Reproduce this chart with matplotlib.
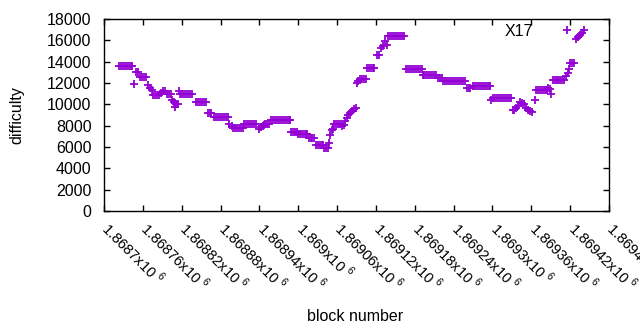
import matplotlib
matplotlib.use("Agg")
import matplotlib.pyplot as plt
import matplotlib.transforms as mtransforms
from matplotlib.ticker import MultipleLocator, FuncFormatter

# block numbers and difficulty values
blocks = [
    1868723, 1868726, 1868729, 1868732, 1868735, 1868738, 1868741, 1868744,
    1868747,
    1868750, 1868753,
    1868756, 1868759, 1868762, 1868765,
    1868768, 1868771, 1868774,
    1868776, 1868779, 1868782, 1868785,
    1868788, 1868791, 1868794,
    1868797, 1868800, 1868803,
    1868805, 1868808, 1868810, 1868811, 1868814,
    1868816,
    1868818, 1868821, 1868824, 1868827, 1868830, 1868833, 1868836,
    1868842, 1868845, 1868848, 1868851, 1868854, 1868857,
    1868860, 1868863, 1868866,
    1868870, 1868873, 1868876, 1868879, 1868882, 1868885, 1868888, 1868891,
    1868893, 1868897,
    1868899, 1868902, 1868905, 1868908, 1868911, 1868914,
    1868917, 1868920, 1868923, 1868926, 1868929, 1868932, 1868935,
    1868939, 1868942, 1868945, 1868947,
    1868949, 1868952, 1868955,
    1868958, 1868961, 1868964, 1868967, 1868970, 1868973, 1868976, 1868979,
    1868982, 1868985, 1868987,
    1868989, 1868992, 1868995, 1868998,
    1869000, 1869003, 1869006, 1869009, 1869012, 1869014,
    1869016, 1869019, 1869022, 1869025,
    1869027, 1869030, 1869033, 1869036, 1869039,
    1869040, 1869043, 1869046,
    1869047, 1869049, 1869052, 1869054,
    1869056, 1869059, 1869062, 1869065,
    1869068, 1869070, 1869072, 1869075, 1869077, 1869080, 1869083, 1869086, 1869089,
    1869091, 1869093,
    1869095, 1869098, 1869101, 1869104,
    1869106, 1869109, 1869112, 1869115, 1869117,
    1869121, 1869124,
    1869128, 1869131, 1869134, 1869137,
    1869139, 1869142, 1869145, 1869148, 1869151, 1869154, 1869157, 1869160, 1869163,
    1869167, 1869170, 1869173, 1869176, 1869179, 1869182, 1869185, 1869188, 1869191,
    1869192, 1869195, 1869198, 1869201, 1869204, 1869207, 1869210, 1869213,
    1869216, 1869219, 1869222,
    1869224, 1869227, 1869230, 1869233, 1869236, 1869239, 1869242, 1869245,
    1869248, 1869251, 1869254, 1869257,
    1869260, 1869263, 1869266,
    1869270, 1869273, 1869276, 1869279, 1869282, 1869285, 1869288, 1869291,
    1869294, 1869296,
    1869298, 1869301, 1869304, 1869307, 1869310, 1869313, 1869316, 1869319,
    1869322, 1869325, 1869328,
    1869331, 1869334, 1869337, 1869340, 1869343, 1869346, 1869349, 1869352,
    1869355, 1869358, 1869361,
    1869365,
    1869367, 1869370, 1869373, 1869376, 1869379, 1869382, 1869385,
    1869386, 1869389, 1869391,
    1869393, 1869396, 1869399, 1869402, 1869405, 1869408, 1869411,
    1869414, 1869416, 1869418,
    1869420, 1869423, 1869426,
    1869429, 1869432, 1869435, 1869438, 1869441,
]
difficulty = [
    13600, 13600, 13600, 13600, 13600, 13600, 13600, 13600,
    11900,
    13000, 13000,
    12550, 12550, 12550, 12550,
    11800, 11500, 11300,
    10850, 10850, 10850, 10850,
    11050, 11250, 11250,
    10950, 10950, 10950,
    10400, 10250, 9750, 10050, 10000,
    11250,
    10950, 10950, 10950, 10950, 10950, 10950, 10950,
    10200, 10200, 10200, 10200, 10200, 10200,
    9150, 9150, 9150,
    8800, 8800, 8800, 8800, 8800, 8800, 8800, 8800,
    8200, 7950,
    7750, 7750, 7750, 7750, 7750, 7750,
    8200, 8200, 8200, 8200, 8200, 8200, 8200,
    7650, 7900, 7950, 8100,
    8200, 8200, 8200,
    8500, 8500, 8500, 8500, 8500, 8500, 8500, 8500,
    8500, 8500, 8500,
    7450, 7450, 7450, 7450,
    7200, 7200, 7200, 7200, 7200, 7200,
    6850, 6850, 6850, 6850,
    6150, 6150, 6150, 6150, 6150,
    5950, 5950, 5950,
    6350, 7100, 7550, 7650,
    8150, 8150, 8150, 8150,
    7950, 8100, 8450, 8700, 9000, 9200, 9350, 9550, 9700,
    12000, 12200,
    12400, 12400, 12400, 12400,
    13450, 13450, 13450, 13450, 13450,
    14600, 14600,
    15250, 15450, 15900, 15550,
    16400, 16400, 16400, 16400, 16400, 16400, 16400, 16400, 16400,
    13300, 13300, 13300, 13300, 13300, 13300, 13300, 13300, 13300,
    12750, 12750, 12750, 12750, 12750, 12750, 12750, 12750,
    12450, 12450, 12450,
    12150, 12150, 12150, 12150, 12150, 12150, 12150, 12150,
    12150, 12150, 12150, 12150,
    11500, 11500, 11500,
    11700, 11700, 11700, 11700, 11700, 11700, 11700, 11700,
    11700, 11700,
    10450, 10550, 10550, 10550, 10550, 10550, 10550, 10550,
    10550, 10550, 10550,
    9450, 9500, 9700, 9850, 10200, 10150, 10000, 9700,
    9450, 9400, 9250,
    10400,
    11350, 11350, 11350, 11350, 11350, 11350, 11350,
    11500, 11450, 11000,
    12300, 12300, 12300, 12300, 12300, 12300, 12300,
    12700, 12950, 13300,
    13850, 13850, 13850,
    16150, 16350, 16500, 16700, 16950,
]

series_name = "X17"

plt.rcParams['font.family'] = ['Liberation Sans', 'DejaVu Sans']
plt.rcParams['mathtext.fontset'] = 'custom'
plt.rcParams['mathtext.rm'] = 'Liberation Sans'

fig = plt.figure(figsize=(6.4, 3.3), dpi=100)
ax = fig.add_axes([104 / 640, 1 - 211 / 330, 505 / 640, 192 / 330])

ax.plot(blocks, difficulty, linestyle='none', marker='+', markersize=6,
        markeredgewidth=1.3, color='#9400D3', label=series_name)

ax.set_xlim(1868700, 1869480)
ax.set_ylim(0, 18000)
ax.xaxis.set_major_locator(MultipleLocator(60))
ax.yaxis.set_major_locator(MultipleLocator(2000))


def block_fmt(v, pos):
    return '%gx10 $^{6}$' % (round(v) / 1e6)


ax.xaxis.set_major_formatter(FuncFormatter(block_fmt))
ax.tick_params(direction='in', top=True, right=True, length=4, width=1,
               labelsize=11.5, color='black')
ax.tick_params(axis='y', pad=9)
ax.tick_params(axis='x', pad=9, labelsize=10.5)
shift = mtransforms.ScaledTranslation(0.08, 0.05, fig.dpi_scale_trans)
for lab in ax.get_xticklabels():
    lab.set_rotation(-45)
    lab.set_ha('left')
    lab.set_va('top')
    lab.set_rotation_mode('anchor')
    lab.set_transform(lab.get_transform() + shift)

for sp in ax.spines.values():
    sp.set_linewidth(1)

ax.set_ylabel('difficulty', fontsize=11.5)
ax.set_xlabel('block number', fontsize=11.5)
ax.xaxis.set_label_coords(0.497, -0.51)
ax.yaxis.set_label_coords(-0.158, 0.5)

ax.legend(loc='center right', bbox_to_anchor=((583 - 104) / 505, (211 - 31) / 192),
          frameon=False, markerfirst=False, fontsize=11.5, handletextpad=1.1,
          borderpad=0, borderaxespad=0, handlelength=2)

fig.savefig('out.png', dpi=100)
